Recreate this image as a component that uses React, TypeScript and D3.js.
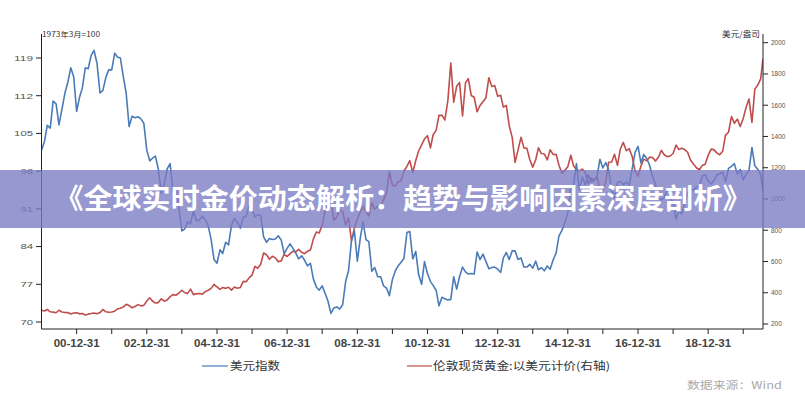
import React from "react";
import * as d3 from "d3";

// ---- Data (monthly readings, first point = 1999-12-31, last = late July 2020) ----
const usdIndex = [
  101.9,
  103.5, 106.5, 106.0, 111.0, 110.5, 106.6, 109.5, 112.5, 114.5, 117.2, 115.5, 109.1,
  111.8, 113.4, 117.2, 117.0, 119.5, 120.4, 118.0, 112.5, 113.0, 115.4, 116.8, 116.8,
  119.9, 119.2, 119.0, 115.6, 112.4, 106.3, 108.2, 107.9, 108.1, 107.7, 106.9, 101.9,
  99.9, 100.4, 100.8, 98.4, 93.9, 95.6, 98.4, 99.4, 94.2, 95.0, 91.3, 86.9,
  87.3, 88.6, 88.3, 90.6, 88.8, 88.9, 89.6, 89.0, 87.9, 85.3, 81.6, 80.9,
  83.4, 82.7, 84.8, 84.3, 88.0, 89.2, 88.5, 87.4, 89.5, 89.6, 91.6, 90.9,
  89.5, 89.9, 89.8, 85.8, 84.8, 85.5, 85.3, 85.4, 86.0, 85.2, 82.7, 83.7,
  84.5, 83.7, 82.8, 81.7, 82.3, 81.5, 80.4, 80.9, 78.0, 76.5, 75.9, 76.7,
  75.3, 73.9, 71.6, 72.6, 72.8, 72.4, 73.2, 77.5, 79.5, 85.1, 86.9, 81.3,
  85.6, 88.6, 85.3, 84.9, 79.4, 80.1, 78.4, 78.4, 76.7, 76.3, 74.9, 77.9,
  79.5, 80.4, 81.1, 81.8, 86.6, 86.8, 81.7, 83.1, 78.8, 77.0, 81.2, 79.0,
  77.5, 76.8, 75.9, 73.0, 74.6, 74.3, 74.1, 74.2, 78.4, 76.1, 78.4, 80.2,
  79.3, 78.9, 79.0, 78.9, 83.0, 81.6, 82.6, 81.2, 79.9, 80.1, 80.2, 79.8,
  79.2, 81.9, 82.9, 81.6, 83.2, 83.2, 81.6, 81.9, 80.2, 80.2, 80.7, 80.0,
  81.3, 79.7, 80.1, 79.5, 80.4, 79.8, 81.5, 82.8, 86.0, 87.0, 88.4, 90.3,
  94.8, 95.3, 99.4, 94.6, 96.9, 95.5, 97.3, 96.0, 96.4, 97.0, 100.2, 98.6,
  99.6, 98.2, 94.6, 93.0, 95.9, 96.1, 95.5, 96.0, 95.4, 98.4, 101.5, 102.6,
  99.5, 101.1, 100.4, 99.1, 97.0, 95.6, 92.9, 92.7, 93.1, 94.6, 93.1, 92.1,
  89.1, 90.6, 90.1, 91.8, 94.0, 94.5, 94.5, 95.1, 95.1, 97.1, 97.3, 96.2,
  95.6, 96.2, 97.3, 97.5, 97.8, 96.1, 98.5, 98.9, 99.4, 97.4, 98.3, 96.4,
  97.4, 98.1, 102.4, 99.0, 98.3, 97.4, 94.4,
];

const goldUsd = [
  288,
  283, 293, 278, 276, 272, 288, 277, 274, 273, 264, 270, 272,
  265, 267, 258, 263, 267, 270, 265, 273, 293, 278, 275, 277,
  282, 296, 301, 308, 326, 318, 304, 312, 324, 316, 319, 347,
  368, 347, 334, 337, 361, 346, 354, 375, 388, 384, 398, 416,
  400, 396, 423, 388, 393, 395, 391, 407, 416, 428, 453, 438,
  422, 434, 428, 435, 417, 437, 429, 433, 473, 470, 495, 513,
  569, 556, 582, 654, 643, 614, 633, 623, 599, 604, 646, 632,
  650, 665, 662, 677, 659, 650, 665, 673, 743, 789, 783, 834,
  923, 972, 990, 865, 885, 931, 918, 833, 880, 730, 814, 870,
  919, 952, 916, 891, 975, 934, 955, 955, 996, 1040, 1175, 1088,
  1084, 1109, 1116, 1179, 1208, 1245, 1169, 1246, 1307, 1346, 1384, 1405,
  1327, 1411, 1439, 1535, 1536, 1505, 1628, 1870, 1620, 1722, 1746, 1531,
  1744, 1770, 1662, 1651, 1558, 1598, 1622, 1648, 1776, 1720, 1726, 1657,
  1664, 1588, 1598, 1469, 1394, 1234, 1314, 1395, 1327, 1324, 1253, 1204,
  1251, 1327, 1291, 1288, 1250, 1315, 1285, 1286, 1216, 1164, 1183, 1206,
  1280, 1214, 1187, 1180, 1191, 1171, 1098, 1135, 1114, 1142, 1061, 1060,
  1111, 1235, 1237, 1286, 1215, 1320, 1362, 1309, 1322, 1272, 1178, 1146,
  1212, 1255, 1245, 1267, 1266, 1243, 1267, 1311, 1283, 1271, 1275, 1291,
  1345, 1317, 1325, 1316, 1299, 1250, 1224, 1200, 1187, 1215, 1222, 1279,
  1319, 1316, 1295, 1283, 1305, 1409, 1427, 1528, 1485, 1511, 1464, 1515,
  1589, 1640, 1490, 1703, 1729, 1768, 1897,
];

const startDate = "1999-12-31";
const endDate = "2020-07-24";

const leftTicks = [70, 77, 84, 91, 98, 105, 112, 119];
const rightTicks = [200, 400, 600, 800, 1000, 1200, 1400, 1600, 1800, 2000];
const tickYears = [2000, 2001, 2002, 2003, 2004, 2005, 2006, 2007, 2008, 2009, 2010, 2011, 2012, 2013, 2014, 2015, 2016, 2017, 2018, 2019];
const labelYears = ["00-12-31", "02-12-31", "04-12-31", "06-12-31", "08-12-31", "10-12-31", "12-12-31", "14-12-31", "16-12-31", "18-12-31"];
const legendLabels = ["美元指数", "伦敦现货黄金:以美元计价(右轴)"];
const leftUnit = "1973年3月=100";
const rightUnit = "美元/盎司";
const sourceText = "数据来源：Wind";
const titleText = "《全球实时金价动态解析：趋势与影响因素深度剖析》";

const BLUE = "#4a7bb7";
const RED = "#bf4d4b";

function buildDates(n: number): Date[] {
  const parse = d3.timeParse("%Y-%m-%d");
  const first = parse(startDate) as Date;
  const last = parse(endDate) as Date;
  const out: Date[] = [first];
  for (let i = 1; i < n - 1; i++) {
    // last day of month i (Jan 2000 = 1)
    out.push(new Date(2000, i, 0));
  }
  out.push(last);
  return out;
}

export default function App() {
  const W = 805;
  const H = 400;
  const plotLeft = 41.5;
  const plotRight = 763;
  const plotTop = 34;
  const plotBottom = 329;

  const dates = buildDates(usdIndex.length);
  const parse = d3.timeParse("%Y-%m-%d");
  const x = d3
    .scaleTime()
    .domain([parse(startDate) as Date, parse(endDate) as Date])
    .range([plotLeft, plotRight]);
  const yL = d3.scaleLinear().domain([70, 119]).range([322, 58]);
  const yR = d3.scaleLinear().domain([200, 2000]).range([324, 42.7]);

  const usdLine = d3
    .line<number>()
    .x((_, i) => x(dates[i]))
    .y((d) => yL(d))
    .curve(d3.curveLinear)(usdIndex) as string;
  const goldLine = d3
    .line<number>()
    .x((_, i) => x(dates[i]))
    .y((d) => yR(d))
    .curve(d3.curveLinear)(goldUsd) as string;

  const font = "'Liberation Sans', 'Noto Sans CJK SC', sans-serif";
  const cjk = "'Noto Sans CJK SC', 'Liberation Sans', sans-serif";

  return (
    <svg
      width={W}
      height={H}
      viewBox={`0 0 ${W} ${H}`}
      style={{ position: "absolute", left: 0, top: 0, background: "#fff" }}
    >
      <rect x={0} y={0} width={W} height={H} fill="#ffffff" />
      <defs>
        <clipPath id="plotClip">
          <rect x={plotLeft} y={plotTop} width={plotRight - plotLeft} height={plotBottom - plotTop} />
        </clipPath>
      </defs>

      {/* series */}
      <g clipPath="url(#plotClip)">
        <path d={goldLine} fill="none" stroke={RED} strokeWidth={1.6} strokeLinejoin="round" />
        <path d={usdLine} fill="none" stroke={BLUE} strokeWidth={1.6} strokeLinejoin="round" />
      </g>

      {/* axes lines */}
      <g stroke="#222" strokeWidth={1}>
        <line x1={plotLeft} y1={plotTop} x2={plotLeft} y2={plotBottom} />
        <line x1={plotRight} y1={plotTop} x2={plotRight} y2={plotBottom} />
        <line x1={plotLeft} y1={plotBottom} x2={plotRight} y2={plotBottom} />
      </g>

      {/* left ticks */}
      {leftTicks.map((t) => (
        <g key={"l" + t}>
          <line x1={plotLeft - 5.5} x2={plotLeft} y1={yL(t)} y2={yL(t)} stroke="#222" strokeWidth={1} />
          <text
            x={33}
            y={yL(t) + 2.8}
            textAnchor="end"
            fontFamily={font}
            fontSize={7.5}
            fill="#555"
            textLength={String(t).length * 6.3}
            lengthAdjust="spacingAndGlyphs"
          >
            {t}
          </text>
        </g>
      ))}

      {/* right ticks */}
      {rightTicks.map((t) => (
        <g key={"r" + t}>
          <line x1={plotRight} x2={plotRight + 5} y1={yR(t)} y2={yR(t)} stroke="#222" strokeWidth={1} />
          <text x={771} y={yR(t) + 2.3} fontFamily={font} fontSize={6.5} fill="#555">
            {t}
          </text>
        </g>
      ))}

      {/* x ticks */}
      {tickYears.map((yr) => {
        const xx = x(new Date(yr, 11, 31));
        return <line key={"x" + yr} x1={xx} x2={xx} y1={plotBottom} y2={plotBottom + 5} stroke="#222" strokeWidth={1} />;
      })}
      {labelYears.map((lab, i) => {
        const xx = x(new Date(2000 + i * 2, 11, 31));
        return (
          <text
            key={lab}
            x={xx}
            y={346.5}
            textAnchor="middle"
            fontFamily={font}
            fontSize={10}
            fontWeight={700}
            fill="#444"
            textLength={46}
            lengthAdjust="spacingAndGlyphs"
          >
            {lab}
          </text>
        );
      })}

      {/* unit labels */}
      <text x={42} y={37} fontFamily={cjk} fontSize={7} fill="#333" textLength={58} lengthAdjust="spacingAndGlyphs">
        {leftUnit}
      </text>
      <text x={722} y={37} fontFamily={cjk} fontSize={8} fill="#333" textLength={38} lengthAdjust="spacingAndGlyphs">
        {rightUnit}
      </text>

      {/* legend */}
      <line x1={202} x2={228} y1={366} y2={366} stroke={BLUE} strokeWidth={1.2} />
      <text x={230} y={370} fontFamily={cjk} fontSize={11} fill="#333" textLength={50} lengthAdjust="spacingAndGlyphs">
        {legendLabels[0]}
      </text>
      <line x1={407} x2={432} y1={366} y2={366} stroke={RED} strokeWidth={1.2} />
      <text x={433} y={370} fontFamily={cjk} fontSize={11} fill="#333" textLength={177} lengthAdjust="spacingAndGlyphs">
        {legendLabels[1]}
      </text>

      {/* source */}
      <text x={687} y={389} fontFamily={cjk} fontSize={10} fill="#aaa" textLength={95} lengthAdjust="spacingAndGlyphs">
        {sourceText}
      </text>

      {/* title banner */}
      <rect x={0} y={170} width={W} height={58} fill="#7b7bc4" opacity={0.78} />
      <text
        x={403}
        y={209}
        textAnchor="middle"
        fontFamily={cjk}
        fontSize={28}
        fontWeight={700}
        fill="#ffffff"
        textLength={697}
        lengthAdjust="spacingAndGlyphs"
      >
        {titleText}
      </text>
    </svg>
  );
}
